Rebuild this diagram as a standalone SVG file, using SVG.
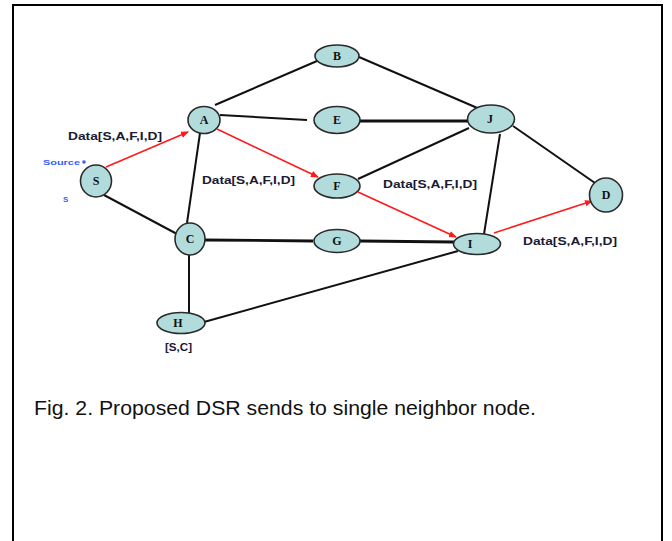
<svg xmlns="http://www.w3.org/2000/svg" width="672" height="541" viewBox="0 0 672 541">
<defs>
<marker id="ah" markerWidth="8" markerHeight="8" refX="7" refY="4" orient="auto" markerUnits="userSpaceOnUse">
<path d="M0,0.8 L8,4 L0,7.2 Z" fill="#ff1a1a"/>
</marker>
<style>
.node{fill:#b2dcdc;stroke:#2a2a2a;stroke-width:1.6}
.lbl{font-family:"Liberation Serif",serif;font-weight:bold;font-size:12px;fill:#111;text-anchor:middle}
.e{stroke:#111;stroke-width:2;fill:none}
.ek{stroke:#111;stroke-width:2.8;fill:none}
.r{stroke:#ff1a1a;stroke-width:1.6;fill:none;marker-end:url(#ah)}
.dl{font-family:"Liberation Sans",Arial,sans-serif;font-weight:bold;font-size:11px;fill:#1a1a33}
.src{font-family:"Liberation Sans",Arial,sans-serif;font-weight:bold;font-size:8px;fill:#3a5cff}
.cap{font-family:"Liberation Sans",Arial,sans-serif;font-size:21px;fill:#111}
</style>
</defs>
<rect width="672" height="541" fill="#fff"/>
<path d="M13,541 V5 H662 V541" fill="none" stroke="#000" stroke-width="2"/>
<g id="connectors">
<line class="e" x1="215" y1="105" x2="317" y2="61"/>
<line class="e" x1="359" y1="57" x2="482" y2="110"/>
<line class="e" x1="220" y1="115" x2="307" y2="120"/>
<line class="ek" x1="360" y1="121" x2="468" y2="121"/>
<line class="e" x1="469" y1="128" x2="358" y2="179"/>
<line class="e" x1="500" y1="134" x2="484" y2="234"/>
<line class="e" x1="513" y1="126" x2="595" y2="183"/>
<line class="e" x1="200" y1="133" x2="187" y2="223"/>
<line class="e" x1="104" y1="195" x2="177" y2="234"/>
<line class="ek" x1="205" y1="240" x2="313" y2="241"/>
<line class="ek" x1="360" y1="241" x2="454" y2="242"/>
<line class="e" x1="189" y1="255" x2="189" y2="313"/>
<line class="e" x1="204" y1="322" x2="458" y2="251"/>
<line class="r" x1="106" y1="167" x2="188" y2="132"/>
<line class="r" x1="217" y1="129" x2="318" y2="177"/>
<line class="r" x1="358" y1="192" x2="456" y2="237"/>
<line class="r" x1="494" y1="233" x2="592" y2="201"/>
</g>
<g id="node-B"><ellipse class="node" cx="337" cy="56" rx="22" ry="11"/><text class="lbl" x="337" y="60">B</text></g>
<g id="node-A"><ellipse class="node" cx="204" cy="120" rx="16" ry="13.5"/><text class="lbl" x="204" y="124">A</text></g>
<g id="node-E"><ellipse class="node" cx="337" cy="120" rx="23" ry="13.5"/><text class="lbl" x="337" y="124">E</text></g>
<g id="node-J"><ellipse class="node" cx="491" cy="119" rx="23.5" ry="14"/><text class="lbl" x="490" y="123">J</text></g>
<g id="node-S"><ellipse class="node" cx="96" cy="181" rx="15.5" ry="16"/><text class="lbl" x="96" y="185">S</text></g>
<g id="node-F"><ellipse class="node" cx="337" cy="186" rx="23" ry="12"/><text class="lbl" x="337" y="190">F</text></g>
<g id="node-D"><ellipse class="node" cx="606" cy="195" rx="16.5" ry="17"/><text class="lbl" x="606" y="199">D</text></g>
<g id="node-C"><ellipse class="node" cx="190" cy="239" rx="15" ry="16"/><text class="lbl" x="190" y="243">C</text></g>
<g id="node-G"><ellipse class="node" cx="337" cy="241" rx="23" ry="11.5"/><text class="lbl" x="337" y="245">G</text></g>
<g id="node-I"><ellipse class="node" cx="477" cy="244" rx="23.5" ry="10.5"/><text class="lbl" x="470" y="248">I</text></g>
<g id="node-H"><ellipse class="node" cx="181" cy="323" rx="24" ry="10.5"/><text class="lbl" x="178" y="327">H</text></g>
<g id="labels">
<text class="dl" x="68" y="140" textLength="94" lengthAdjust="spacingAndGlyphs">Data[S,A,F,I,D]</text>
<text class="dl" x="202" y="184" textLength="93" lengthAdjust="spacingAndGlyphs">Data[S,A,F,I,D]</text>
<text class="dl" x="383" y="188" textLength="94" lengthAdjust="spacingAndGlyphs">Data[S,A,F,I,D]</text>
<text class="dl" x="523" y="245" textLength="94" lengthAdjust="spacingAndGlyphs">Data[S,A,F,I,D]</text>
<text class="dl" x="165" y="351" textLength="27" lengthAdjust="spacingAndGlyphs">[S,C]</text>
<text class="src" x="43" y="165" textLength="37" lengthAdjust="spacingAndGlyphs">Source</text>
<circle cx="84" cy="162" r="1.8" fill="#3a5cff"/>
<text class="src" x="63" y="202" font-size="9">S</text>
<text class="cap" x="34" y="415" textLength="502" lengthAdjust="spacingAndGlyphs">Fig. 2. Proposed DSR sends to single neighbor node.</text>
</g>
</svg>
